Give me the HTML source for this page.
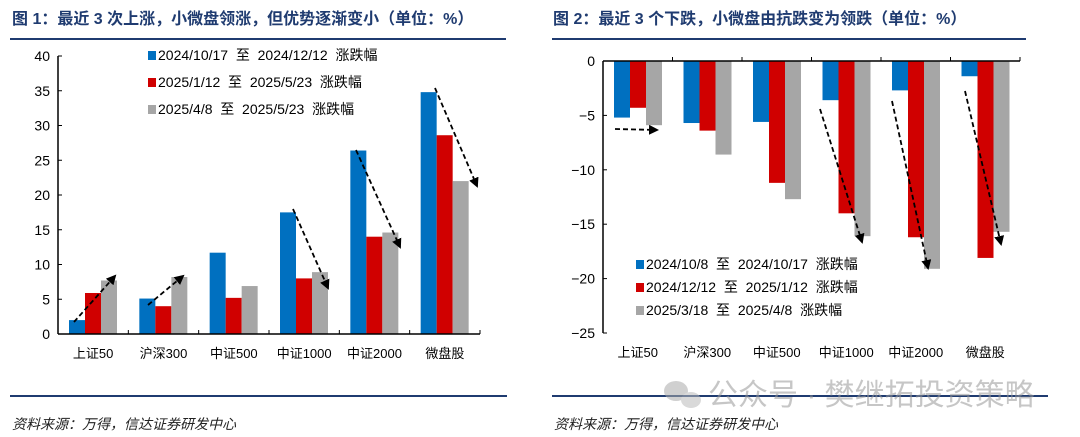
<!DOCTYPE html>
<html><head><meta charset="utf-8">
<style>
body{margin:0;background:#fff;width:1080px;height:437px;overflow:hidden;font-family:"Liberation Sans","Noto Sans CJK SC",sans-serif}
svg{display:block}
text{white-space:pre}
</style></head>
<body>
<svg id="s" width="1080" height="437">
<defs>
<marker id="ah" markerWidth="10" markerHeight="10" refX="8" refY="5" orient="auto" markerUnits="userSpaceOnUse">
<path d="M0,0 L10,5 L0,10 Z" fill="#000"/></marker>
</defs>
<text x="12" y="24" font-size="16" font-weight="bold" fill="#1f3b70">图 1：最近 3 次上涨，小微盘领涨，但优势逐渐变小（单位：%）</text>
<text x="553" y="24" font-size="16" font-weight="bold" fill="#1f3b70">图 2：最近 3 个下跌，小微盘由抗跌变为领跌（单位：%）</text>
<line x1="10" y1="39" x2="506" y2="39" stroke="#1f3b70" stroke-width="2"/>
<line x1="552" y1="39" x2="1026" y2="39" stroke="#1f3b70" stroke-width="2"/>
<line x1="10" y1="396" x2="507" y2="396" stroke="#1f3b70" stroke-width="2"/>
<line x1="552" y1="396" x2="1048" y2="396" stroke="#1f3b70" stroke-width="2"/>
<text x="12" y="429" font-size="14" font-style="italic" fill="#222">资料来源：万得，信达证券研发中心</text>
<text x="554" y="429" font-size="14" font-style="italic" fill="#222">资料来源：万得，信达证券研发中心</text>
<g id="L"></g>
<g id="R"></g>
<g opacity="0.55">
<ellipse cx="676" cy="391" rx="12" ry="10" fill="#aaa"/>
<ellipse cx="691" cy="400" rx="10" ry="8" fill="#bbb"/>
<text x="708" y="405" font-size="30" fill="#999">公众号 · 樊继拓投资策略</text>
</g>
</svg>
<script>
const categories=["上证50","沪深300","中证500","中证1000","中证2000","微盘股"];
const leftSeries1=[2,5.1,11.7,17.5,26.4,34.8];
const leftSeries2=[5.9,4,5.2,8,14,28.6];
const leftSeries3=[7.7,8.2,6.9,8.9,14.6,22];
const leftTicks=[0,5,10,15,20,25,30,35,40];
const leftLegend=["2024/10/17  至  2024/12/12  涨跌幅","2025/1/12  至  2025/5/23  涨跌幅","2025/4/8  至  2025/5/23  涨跌幅"];
const rightSeries1=[-5.2,-5.7,-5.6,-3.6,-2.7,-1.4];
const rightSeries2=[-4.3,-6.4,-11.2,-14,-16.2,-18.1];
const rightSeries3=[-5.9,-8.6,-12.7,-16.1,-19.1,-15.7];
const rightTicks=[0,-5,-10,-15,-20,-25];
const rightLegend=["2024/10/8  至  2024/10/17  涨跌幅","2024/12/12  至  2025/1/12  涨跌幅","2025/3/18  至  2025/4/8  涨跌幅"];
const colors=["#0070c0","#d00000","#a6a6a6"];
const NS="http://www.w3.org/2000/svg";
function mk(p,t,a){const e=document.createElementNS(NS,t);for(const k in a)e.setAttribute(k,a[k]);p.appendChild(e);return e;}
function chart(g,o){
  const y=v=>o.y0+(v-o.vmin)/(o.vmax-o.vmin)*(o.y1-o.y0);
  const bw=(o.x1-o.x0)/categories.length;
  const series=[o.s1,o.s2,o.s3];
  series.forEach((s,si)=>s.forEach((v,i)=>{
    const bx=o.x0+i*bw+11+si*16;
    const r=mk(g,'rect',{x:bx,y:Math.min(y(v),y(0)),width:16,height:Math.abs(y(v)-y(0)),fill:colors[si]});
    
    
  }));
  const ax=mk(g,'line',{x1:o.x0,y1:y(o.vmin),x2:o.x0,y2:y(o.vmax),stroke:'#000','stroke-width':1.5});
  
  const xa=mk(g,'line',{x1:o.x0,y1:y(0),x2:o.x1,y2:y(0),stroke:'#000','stroke-width':1.5});
  
  o.ticks.forEach(t=>{
    mk(g,'line',{x1:o.x0,y1:y(t),x2:o.x0+4,y2:y(t),stroke:'#000'});
    const tx=mk(g,'text',{x:o.x0-8,y:y(t)+5,'font-size':14,'text-anchor':'end',fill:'#000'});
    tx.textContent=t<0?'−'+(-t):t;
    
  });
  categories.forEach((c,i)=>{
    mk(g,'line',{x1:o.x0+(i+1)*bw,y1:y(0),x2:o.x0+(i+1)*bw,y2:y(0)+o.td,stroke:'#000'});
    const tx=mk(g,'text',{x:o.x0+i*bw+bw/2,y:o.ly,'font-size':13,'text-anchor':'middle',fill:'#000'});
    tx.textContent=c;
    
  });
  o.legend.forEach((l,i)=>{
    const r=mk(g,'rect',{x:o.lx,y:o.lyy+i*o.lgap-8,width:8,height:9,fill:colors[i]});
    
    const tx=mk(g,'text',{x:o.lx+10,y:o.lyy+i*o.lgap+1,'font-size':14,fill:'#000'});
    tx.textContent=l;
    
  });
  o.arrows.forEach(a=>{
    const l=mk(g,'line',{x1:a[0],y1:a[1],x2:a[2],y2:a[3],stroke:'#000','stroke-width':1.8,'stroke-dasharray':'5,3','marker-end':'url(#ah)'});
    
  });
}
chart(document.getElementById('L'),{x0:58,x1:480,y0:334,y1:56,vmin:0,vmax:40,s1:leftSeries1,s2:leftSeries2,s3:leftSeries3,ticks:leftTicks,td:-4,ly:358,legend:leftLegend,lx:148,lyy:59,lgap:27,
 arrows:[[74,322,115,276],[148,305,183,276],[293,209,328,288],[356,150,400,247],[435,88,477,186]]});
chart(document.getElementById('R'),{x0:603,x1:1020,y0:61,y1:333,vmin:0,vmax:-25,s1:rightSeries1,s2:rightSeries2,s3:rightSeries3,ticks:rightTicks,td:-4,ly:357,legend:rightLegend,lx:636,lyy:268,lgap:23,
 arrows:[[615,129,657,130],[820,109,862,242],[892,101,928,268],[965,91,1001,244]]});
</script>
</body></html>
